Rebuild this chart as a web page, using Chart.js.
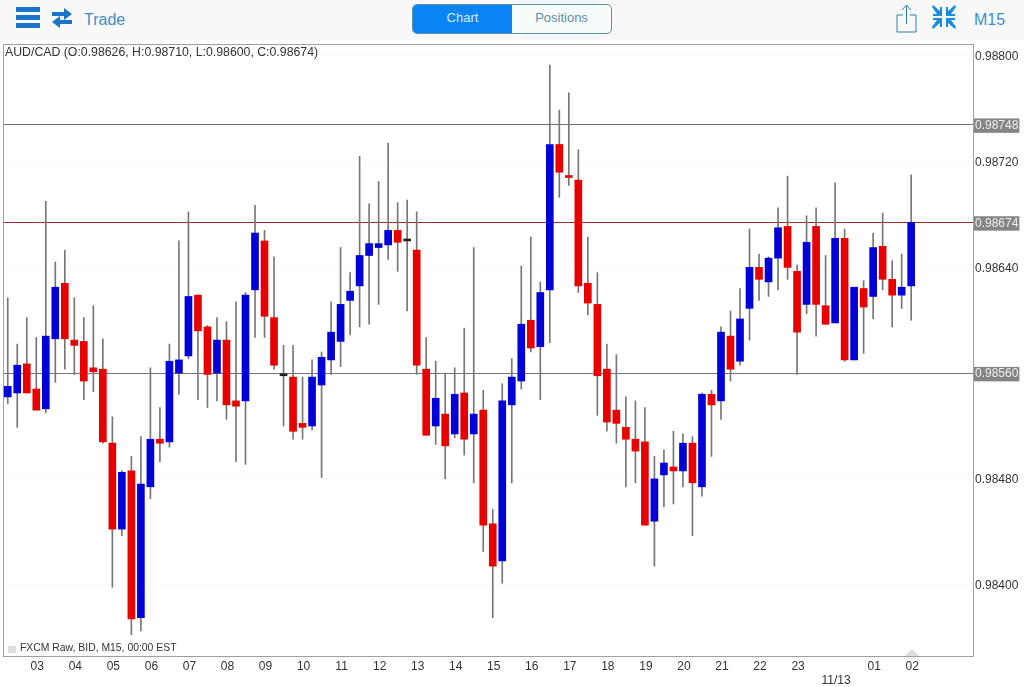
<!DOCTYPE html>
<html>
<head>
<meta charset="utf-8">
<title>AUD/CAD M15</title>
<script src="https://cdn.jsdelivr.net/npm/chart.js@4"></script>
<style>
  html, body { margin: 0; padding: 0; background: #fff; }
  body { position: relative; width: 1024px; height: 687px; overflow: hidden; font-family: "Liberation Sans", sans-serif; }
  canvas { position: absolute; left: 0; top: 0; display: block; }
  .header { position: absolute; left: 0; top: 0; width: 1024px; height: 40px; background: #f8f8f8; }
  .header div, .header svg, .note { position: absolute; }
  .trade { left: 84px; top: 11px; font-size: 16px; color: #3f8fc6; }
  .m15 { left: 974px; top: 11px; font-size: 16px; color: #3f8fc6; }
  .toggle { left: 412px; top: 4px; width: 198px; height: 28px; border: 1px solid #5c8ea8; border-radius: 5px; background: #f8fbfc; overflow: hidden; }
  .toggle div { top: 0; height: 28px; line-height: 26px; text-align: center; font-size: 13px; }
  .tab-on { left: 0; width: 99px; background: #0a84f2; color: #d5ecff; }
  .tab-off { left: 99px; width: 99px; color: #5f8fa8; }
  .note { color: #333; white-space: nowrap; }
  #title { left: 5px; top: 45px; font-size: 12.3px; }
  #source { left: 20px; top: 642px; font-size: 10.4px; }
  #source-box { left: 8px; top: 646px; width: 8px; height: 7px; background: #ddd; }
  #marker { left: 905px; top: 649px; width: 0; height: 0; border-left: 7px solid transparent; border-right: 7px solid transparent; border-bottom: 7px solid #ddd; }
</style>
</head>
<body>
<canvas id="chart" width="1024" height="687"></canvas>
<div class="header">
  <svg style="left:16px;top:7px" width="24" height="21"><path d="M0 0h24v5H0zM0 8h24v5H0zM0 16h24v5H0z" fill="#1a74c8"/></svg>
  <svg style="left:52px;top:8px" width="20" height="20"><path d="M0 4h12V0l8 6-8 6V8H0zM20 12H8V8l-8 6 8 6v-4h12z" fill="#1a74c8"/></svg>
  <div class="trade">Trade</div>
  <div class="toggle"><div class="tab-on">Chart</div><div class="tab-off">Positions</div></div>
  <svg style="left:896px;top:4px" width="22" height="29" fill="none" stroke="#2f7fa8" stroke-width="1"><path d="M7 11H1v17h19V11h-6M10.500 20V2M6 6l4.500-5L15 6"/></svg>
  <svg style="left:932px;top:5px" width="24" height="24" fill="#1a8ce0"><path d="M1 0l7 6V2h2v9H1V9h4L0 2zM23 0l-7 6V2h-2v9h9V9h-4l5-7zM1 24l7-6v4h2v-9H1v2h4l-5 7zM23 24l-7-6v4h-2v-9h9v2h-4l5 7z"/></svg>
  <div class="m15">M15</div>
</div>
<div class="note" id="title">AUD/CAD (O:0.98626, H:0.98710, L:0.98600, C:0.98674)</div>
<div class="note" id="source-box"></div>
<div class="note" id="source">FXCM Raw, BID, M15, 00:00 EST</div>
<div class="note" id="marker"></div>
<script>
const hour_labels = ["03", "04", "05", "06", "07", "08", "09", "10", "11", "12", "13", "14", "15", "16", "17", "18", "19", "20", "21", "22", "23", "11/13", "01", "02"];
const empty_slots = 6;
const first_hour_bar = 3;
const bars_per_hour = 4;

const open_prices = [
  0.98542, 0.98545, 0.98567, 0.98548, 0.98533, 0.98586, 0.98628, 0.98585, 0.98584, 0.98564,
  0.98563, 0.98507, 0.98442, 0.98486, 0.98375, 0.98474, 0.98510, 0.98508, 0.98560, 0.98573,
  0.98619, 0.98595, 0.98560, 0.98585, 0.98539, 0.98539, 0.98623, 0.98660, 0.98602, 0.98558,
  0.98557, 0.98522, 0.98520, 0.98551, 0.98570, 0.98584, 0.98615, 0.98626, 0.98649, 0.98655,
  0.98657, 0.98668, 0.98660, 0.98653, 0.98563, 0.98520, 0.98529, 0.98514, 0.98545, 0.98514,
  0.98532, 0.98446, 0.98418, 0.98536, 0.98554, 0.98600, 0.98580, 0.98623, 0.98733, 0.98709,
  0.98706, 0.98628, 0.98612, 0.98563, 0.98532, 0.98519, 0.98510, 0.98508, 0.98448, 0.98483,
  0.98489, 0.98486, 0.98507, 0.98474, 0.98544, 0.98539, 0.98588, 0.98569, 0.98609, 0.98640,
  0.98629, 0.98647, 0.98671, 0.98637, 0.98612, 0.98671, 0.98611, 0.98598, 0.98662, 0.98570,
  0.98624, 0.98618, 0.98656, 0.98631, 0.98619, 0.98626,
];
const high_prices = [
  0.98617, 0.98582, 0.98602, 0.98587, 0.98690, 0.98644, 0.98653, 0.98617, 0.98602, 0.98611,
  0.98586, 0.98527, 0.98486, 0.98497, 0.98512, 0.98564, 0.98534, 0.98582, 0.98660, 0.98682,
  0.98619, 0.98596, 0.98602, 0.98599, 0.98614, 0.98621, 0.98687, 0.98668, 0.98648, 0.98581,
  0.98581, 0.98557, 0.98570, 0.98576, 0.98614, 0.98655, 0.98636, 0.98724, 0.98688, 0.98705,
  0.98734, 0.98689, 0.98691, 0.98682, 0.98587, 0.98569, 0.98560, 0.98564, 0.98594, 0.98655,
  0.98547, 0.98457, 0.98552, 0.98571, 0.98641, 0.98663, 0.98629, 0.98793, 0.98759, 0.98772,
  0.98729, 0.98663, 0.98636, 0.98582, 0.98574, 0.98542, 0.98539, 0.98534, 0.98497, 0.98502,
  0.98516, 0.98514, 0.98512, 0.98545, 0.98547, 0.98595, 0.98607, 0.98624, 0.98669, 0.98650,
  0.98648, 0.98685, 0.98709, 0.98642, 0.98679, 0.98685, 0.98649, 0.98704, 0.98669, 0.98625,
  0.98630, 0.98666, 0.98681, 0.98645, 0.98650, 0.98710,
];
const low_prices = [
  0.98537, 0.98519, 0.98545, 0.98532, 0.98530, 0.98553, 0.98563, 0.98559, 0.98540, 0.98546,
  0.98507, 0.98398, 0.98437, 0.98362, 0.98365, 0.98465, 0.98493, 0.98504, 0.98544, 0.98571,
  0.98540, 0.98534, 0.98539, 0.98525, 0.98493, 0.98491, 0.98587, 0.98587, 0.98563, 0.98520,
  0.98510, 0.98510, 0.98517, 0.98481, 0.98559, 0.98565, 0.98589, 0.98595, 0.98597, 0.98612,
  0.98646, 0.98637, 0.98607, 0.98559, 0.98513, 0.98506, 0.98480, 0.98511, 0.98498, 0.98477,
  0.98425, 0.98375, 0.98401, 0.98477, 0.98548, 0.98576, 0.98540, 0.98583, 0.98693, 0.98702,
  0.98621, 0.98604, 0.98528, 0.98516, 0.98507, 0.98474, 0.98477, 0.98445, 0.98414, 0.98459,
  0.98461, 0.98474, 0.98437, 0.98467, 0.98497, 0.98525, 0.98554, 0.98566, 0.98585, 0.98615,
  0.98618, 0.98623, 0.98631, 0.98559, 0.98605, 0.98588, 0.98597, 0.98598, 0.98569, 0.98570,
  0.98575, 0.98601, 0.98623, 0.98595, 0.98609, 0.98600,
];
const close_prices = [
  0.98550, 0.98566, 0.98545, 0.98532, 0.98588, 0.98625, 0.98586, 0.98581, 0.98554, 0.98561,
  0.98508, 0.98442, 0.98485, 0.98374, 0.98476, 0.98510, 0.98507, 0.98569, 0.98570, 0.98618,
  0.98592, 0.98559, 0.98585, 0.98536, 0.98535, 0.98619, 0.98666, 0.98603, 0.98566, 0.98558,
  0.98516, 0.98519, 0.98557, 0.98572, 0.98591, 0.98612, 0.98622, 0.98649, 0.98658, 0.98658,
  0.98668, 0.98659, 0.98660, 0.98566, 0.98513, 0.98541, 0.98505, 0.98544, 0.98510, 0.98529,
  0.98445, 0.98414, 0.98539, 0.98557, 0.98597, 0.98579, 0.98621, 0.98733, 0.98712, 0.98708,
  0.98626, 0.98613, 0.98558, 0.98523, 0.98522, 0.98510, 0.98501, 0.98445, 0.98480, 0.98492,
  0.98486, 0.98507, 0.98477, 0.98544, 0.98536, 0.98591, 0.98563, 0.98601, 0.98640, 0.98631,
  0.98647, 0.98670, 0.98640, 0.98591, 0.98659, 0.98612, 0.98597, 0.98662, 0.98570, 0.98625,
  0.98610, 0.98655, 0.98631, 0.98619, 0.98625, 0.98674,
];

const price_ticks = [0.98800, 0.98720, 0.98640, 0.98560, 0.98480, 0.98400];
const level_prices = [0.98748, 0.98674, 0.98560];
const level_colors = ["#707070", "#9c2a2a", "#757575"];

function levelIndex(value) {
  return level_prices.findIndex((p) => Math.abs(p - value) < 0.000001);
}

function barColor(i) {
  if (open_prices[i] == close_prices[i]) return "#222";
  return close_prices[i] > open_prices[i] ? "#0000d8" : "#e80000";
}

// one slot per bar, an hour label every 4 bars, empty room on the right
const slot_labels = [];
for (let i = 0; i < open_prices.length + empty_slots; i++) {
  const hour = (i - first_hour_bar) / bars_per_hour;
  slot_labels.push(Number.isInteger(hour) && hour_labels[hour] ? hour_labels[hour] : "");
}

const body_bars = open_prices.map((o, i) => [Math.min(o, close_prices[i]), Math.max(o, close_prices[i])]);
const wick_bars = low_prices.map((l, i) => [l, high_prices[i]]);
const all_ticks = [...new Set([...price_ticks, ...level_prices])].sort((a, b) => b - a);

const border_plugin = {
  id: "plot_border",
  beforeDatasetsDraw(chart) {
    const a = chart.chartArea;
    const ctx = chart.ctx;
    ctx.save();
    ctx.strokeStyle = "#a0a0a0";
    ctx.lineWidth = 1;
    ctx.strokeRect(a.left + 0.5, a.top + 0.5, a.right - a.left, a.bottom - a.top);
    ctx.restore();
  },
};

new Chart(document.getElementById("chart"), {
  type: "bar",
  data: {
    labels: slot_labels,
    datasets: [
      {
        label: "body",
        data: body_bars,
        backgroundColor: open_prices.map((o, i) => barColor(i)),
        barThickness: 7,
        minBarLength: 2,
        grouped: false,
        order: 1,
      },
      {
        label: "wick",
        data: wick_bars,
        backgroundColor: "#777",
        barThickness: 1,
        grouped: false,
        order: 2,
      },
    ],
  },
  options: {
    responsive: false,
    animation: false,
    devicePixelRatio: 1,
    layout: { padding: { left: 3, top: 44, right: 0, bottom: 0 } },
    plugins: { legend: { display: false }, tooltip: { enabled: false } },
    scales: {
      x: {
        type: "category",
        offset: true,
        afterFit(scale) {
          scale.height = 31;
        },
        border: { display: false },
        grid: {
          offset: false,
          drawTicks: false,
          color: (c) => (c.tick && c.tick.label === "11/13" ? "#f6f6f6" : "transparent"),
        },
        ticks: {
          autoSkip: false,
          maxRotation: 0,
          padding: 3,
          labelOffset: 1,
          color: "#333",
          font: { family: "Liberation Sans", size: 12 },
          callback(value) {
            const label = this.getLabelForValue(value);
            return label == "11/13" ? ["", label] : label;
          },
        },
      },
      y: {
        position: "right",
        min: 0.98346,
        max: 0.98809,
        afterFit(scale) {
          scale.width = 51;
        },
        afterBuildTicks(scale) {
          scale.ticks = all_ticks.map((v) => ({ value: v }));
        },
        border: { display: false },
        grid: {
          drawTicks: false,
          color: (c) => {
            const n = c.tick ? levelIndex(c.tick.value) : -1;
            return n >= 0 ? level_colors[n] : "#f9f9f9";
          },
        },
        ticks: {
          autoSkip: false,
          padding: 2,
          labelOffset: 1,
          font: { family: "Liberation Sans", size: 12 },
          color: (c) => (levelIndex(c.tick.value) >= 0 ? "#eee" : "#333"),
          showLabelBackdrop: (c) => levelIndex(c.tick.value) >= 0,
          backdropColor: "#858585",
          backdropPadding: { left: 1, right: 1, top: 0, bottom: 0 },
          callback: (value) => Number(value).toFixed(5),
        },
      },
    },
  },
  plugins: [border_plugin],
});
</script>
</body>
</html>
